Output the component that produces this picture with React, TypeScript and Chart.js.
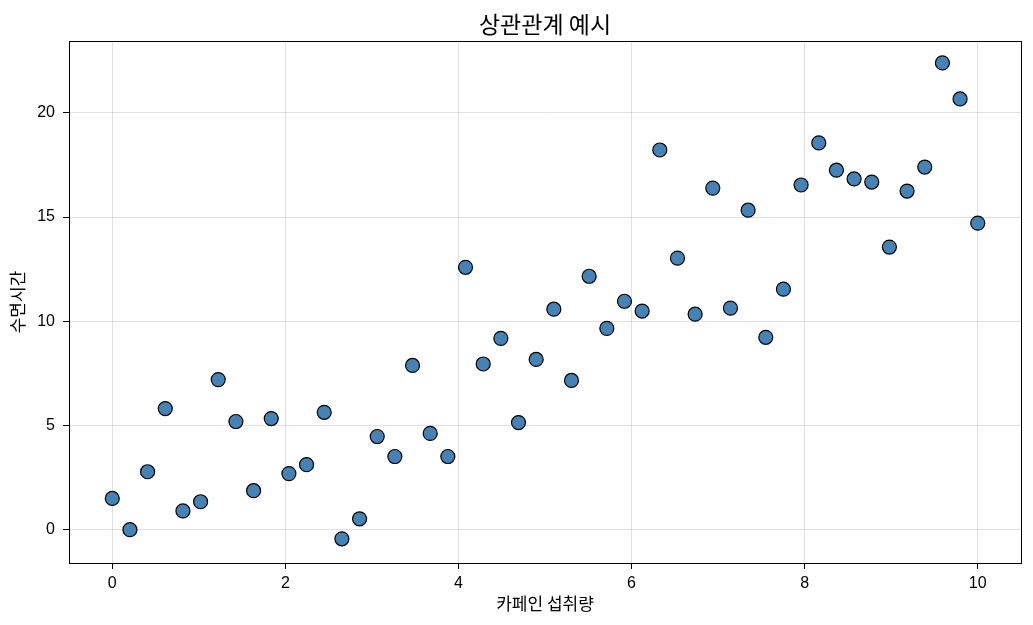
import React, { useEffect, useRef } from "react";
import { Chart, registerables } from "chart.js";

Chart.register(...registerables);

const xValues: number[] = Array.from({ length: 50 }, (_, i) => (i * 10) / 49);
const yValues: number[] = [
  1.5, 0.0, 2.78, 5.81, 0.9, 1.34, 7.2, 5.19, 1.87, 5.33,
  2.69, 3.12, 5.63, -0.44, 0.52, 4.47, 3.51, 7.88, 4.62, 3.51,
  12.59, 7.95, 9.18, 5.14, 8.17, 10.58, 7.16, 12.16, 9.66, 10.96,
  10.49, 18.22, 13.03, 10.34, 16.39, 10.63, 15.33, 9.23, 11.54, 16.54,
  18.56, 17.25, 16.83, 16.68, 13.56, 16.25, 17.4, 22.4, 20.67, 14.71,
];
const xTicks: number[] = [0, 2, 4, 6, 8, 10];
const yTicks: number[] = [0, 5, 10, 15, 20];

const titleText = "상관관계 예시";
const xLabel = "카페인 섭취량";
const yLabel = "수면시간";

const FONT = "'Noto Sans CJK KR', 'Noto Sans', 'DejaVu Sans', sans-serif";
const TICK_FONT = "'Liberation Sans', 'DejaVu Sans', sans-serif";

export default function App() {
  const ref = useRef<HTMLCanvasElement | null>(null);

  useEffect(() => {
    document.body.style.margin = "0";
    const canvas = ref.current;
    if (!canvas) return;

    const framePlugin = {
      id: "frameAndTitle",
      afterDraw(chart: any) {
        const { ctx, chartArea } = chart;
        ctx.save();
        ctx.strokeStyle = "#000";
        ctx.lineWidth = 1;
        ctx.strokeRect(
          Math.round(chartArea.left) + 0.5,
          Math.round(chartArea.top) + 0.5,
          Math.round(chartArea.right - chartArea.left),
          Math.round(chartArea.bottom - chartArea.top)
        );
        ctx.fillStyle = "#000";
        ctx.font = `23px ${FONT}`;
        ctx.textAlign = "center";
        ctx.textBaseline = "middle";
        ctx.fillText(titleText, (chartArea.left + chartArea.right) / 2, 24);
        ctx.restore();
      },
    };

    const chart = new Chart(canvas, {
      type: "scatter",
      data: {
        datasets: [
          {
            data: xValues.map((x, i) => ({ x, y: yValues[i] })),
            backgroundColor: "#4682b4",
            borderColor: "#000",
            borderWidth: 1.2,
            pointRadius: 7,
            pointHoverRadius: 7,
          },
        ],
      },
      options: {
        responsive: false,
        animation: false,
        devicePixelRatio: 1,
        layout: { padding: { left: 3, right: 12, top: 41, bottom: 7 } },
        plugins: {
          legend: { display: false },
          title: { display: false },
          tooltip: { enabled: false },
        },
        scales: {
          x: {
            type: "linear",
            min: -0.5,
            max: 10.5,
            afterBuildTicks: (scale: any) => {
              scale.ticks = xTicks.map((v) => ({ value: v }));
            },
            afterFit: (scale: any) => {
              scale.height = 55;
            },
            grid: {
              color: "rgba(176,176,176,0.38)",
              lineWidth: 1,
              tickColor: "#000",
              tickLength: 6,
              tickWidth: 1,
            },
            border: { display: true, color: "#000", width: 1 },
            ticks: {
              color: "#000",
              padding: 5,
              font: { family: TICK_FONT, size: 16 },
              callback: (v: any) => String(v),
            },
            title: {
              display: true,
              text: xLabel,
              color: "#000",
              font: { family: FONT, size: 17 },
              padding: { top: 4, bottom: 4 },
            },
          },
          y: {
            type: "linear",
            min: -1.6,
            max: 23.45,
            afterBuildTicks: (scale: any) => {
              scale.ticks = yTicks.map((v) => ({ value: v }));
            },
            afterFit: (scale: any) => {
              scale.width = 66;
            },
            grid: {
              color: "rgba(176,176,176,0.38)",
              lineWidth: 1,
              tickColor: "#000",
              tickLength: 6,
              tickWidth: 1,
            },
            border: { display: true, color: "#000", width: 1 },
            ticks: {
              color: "#000",
              padding: 8,
              font: { family: TICK_FONT, size: 16 },
              callback: (v: any) => String(v),
            },
            title: {
              display: true,
              text: yLabel,
              color: "#000",
              font: { family: FONT, size: 17 },
              padding: { top: 4, bottom: 4 },
            },
          },
        },
      },
      plugins: [framePlugin],
    } as any);

    return () => chart.destroy();
  }, []);

  return (
    <div style={{ width: 1033, height: 625, background: "#fff" }}>
      <canvas ref={ref} width={1033} height={625} style={{ display: "block" }} />
    </div>
  );
}
